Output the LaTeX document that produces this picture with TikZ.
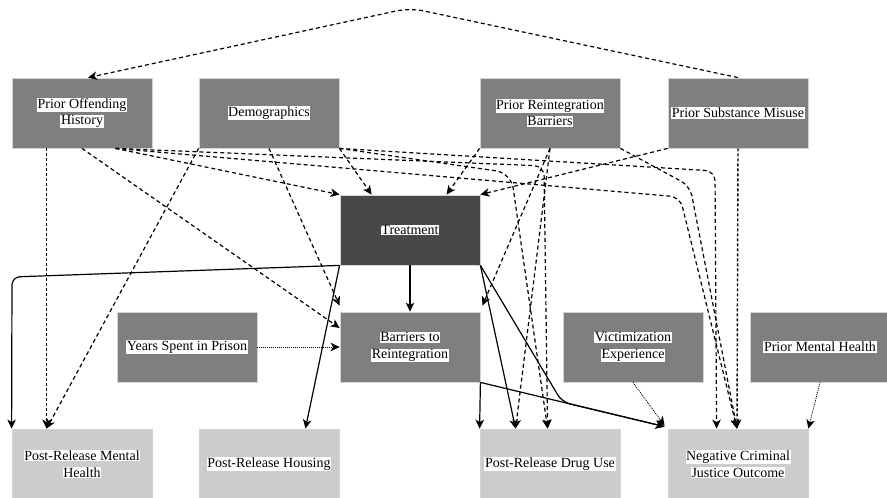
\documentclass[tikz,border=0pt]{standalone}
\usepackage{fontspec}
\setmainfont{Liberation Serif}
\usetikzlibrary{arrows.meta,calc}

% white strip behind each line of a label
\newcommand{\wl}[1]{{\setlength{\fboxsep}{0.6pt}\colorbox{white}{#1}}}

\definecolor{midgray}{HTML}{7F7F7F}
\definecolor{darkgray}{HTML}{484848}
\definecolor{lightgray}{HTML}{CCCCCC}
\definecolor{edgegray}{HTML}{D4D4D4}

\begin{document}
\begin{tikzpicture}[x=1pt,y=-1pt,
  box/.style={draw=edgegray, line width=0.8pt, minimum width=140pt, minimum height=70pt,
    inner sep=0pt, align=center, font=\fontsize{14}{16.5}\selectfont},
  midbox/.style={box, fill=midgray},
  darkbox/.style={box, fill=darkgray},
  lightbox/.style={box, fill=lightgray},
  tip/.style={-{Stealth[length=9pt,width=8.5pt,inset=2.5pt]}},
  dsh/.style={tip, line width=1.2pt, dash pattern=on 4pt off 3pt},
  sdsh/.style={tip, line width=1.4pt, dash pattern=on 3pt off 2pt},
  dotl/.style={tip, line width=0.8pt, dash pattern=on 1pt off 1pt},
  sol/.style={tip, line width=1.2pt},
]
\useasboundingbox (0,0) rectangle (887,498);

% boxes
\node[midbox] (poh) at (82,113) {\wl{Prior Offending}\\\wl{History}};
\node[midbox] (dem) at (269,113) {\wl{Demographics}};
\node[midbox] (prb) at (550,113) {\wl{Prior Reintegration}\\\wl{Barriers}};
\node[midbox] (psm) at (738,113) {\wl{Prior Substance Misuse}};
\node[darkbox] (trt) at (410,230) {\wl{Treatment}};
\node[midbox] (ysp) at (187,347) {\wl{Years Spent in Prison}};
\node[midbox] (bar) at (410,347) {\wl{Barriers to}\\\wl{Reintegration}};
\node[midbox] (vic) at (633,347) {\wl{Victimization}\\\wl{Experience}};
\node[midbox] (pmh) at (820,347) {\wl{Prior Mental Health}};
\node[lightbox] (prmh) at (82,464) {\wl{Post-Release Mental}\\\wl{Health}};
\node[lightbox] (prh) at (269,464) {\wl{Post-Release Housing}};
\node[lightbox] (prdu) at (550,464) {\wl{Post-Release Drug Use}};
\node[lightbox] (ncjo) at (738,464) {\wl{Negative Criminal}\\\wl{Justice Outcome}};

% corner points for the routed dashed paths
\coordinate (pohc) at ($(poh.south east)+(-37,0)$);
\coordinate (ncjoA) at ($(ncjo.north west)+(49,0)$);
\coordinate (ncjoB) at ($(ncjo.north)+(-1,0)$);
\coordinate (prduA) at ($(prdu.north west)+(36,0)$);
\coordinate (prduB) at ($(prdu.north west)+(68,0)$);
\coordinate (ncjoIn) at ($(ncjo.north west)+(-3,-2)$);

% dashed paths
\draw[dsh, rounded corners=14pt] (psm.north) -- (410,8) -- ($(poh.north)+(6,0)$);
\draw[sdsh] ($(poh.south west)+(35,0)$) -- ($(prmh.north west)+(35,0)$);
\draw[dsh] (poh.south) -- ($(bar.west)+(0,-19)$);
\draw[dsh] (pohc) -- (trt.north west);
\draw[dsh, rounded corners=10pt] (pohc) -- (680,197) -- (ncjoB);
\draw[dsh, rounded corners=10pt] (pohc) -- (544,166) -- (prduB);
\draw[dsh] (dem.south west) -- ($(prmh.north west)+(35,0)$);
\draw[dsh] (dem.south) -- ($(bar.north west)+(0,-6)$);
\draw[dsh] (dem.south east) -- ($(trt.north west)+(32,0)$);
\draw[dsh, rounded corners=10pt] (dem.south east) -- (715,171) -- (ncjoA);
\draw[dsh, rounded corners=15pt] (dem.south east) -- (511,173) -- (prduB);
\draw[dsh] (prb.south west) -- ($(trt.north west)+(107,0)$);
\draw[dsh] (prb.south) -- ($(bar.north east)+(2,-6)$);
\draw[dsh] (prb.south) -- (prduA);
\draw[dsh, rounded corners=10pt] (prb.south east) -- (690,186) -- (ncjoB);
\draw[dsh] (psm.south west) -- (trt.north east);
\draw[sdsh] (psm.south) -- (ncjoB);

% solid paths
\draw[sol] (trt.south) -- (bar.north);
\draw[sol, rounded corners=8pt] (trt.south west) -- (12,277) -- (prmh.north west);
\draw[sol] (trt.south west) -- ($(prh.north east)+(-34,0)$);
\draw[sol] (trt.south east) -- (prduA);
\draw[sol, rounded corners=8pt] (trt.south east) -- (562,402) -- (ncjoIn);
\draw[sol] (bar.south east) -- (prdu.north west);
\draw[sol, rounded corners=8pt] (bar.south east) -- (562,402) -- (ncjoIn);

% dotted paths
\draw[dotl] (ysp.east) -- (bar.west);
\draw[dotl] (vic.south) -- ($(ncjo.north west)+(-3,-3)$);
\draw[dotl] (pmh.south) -- (ncjo.north east);
\end{tikzpicture}
\end{document}
